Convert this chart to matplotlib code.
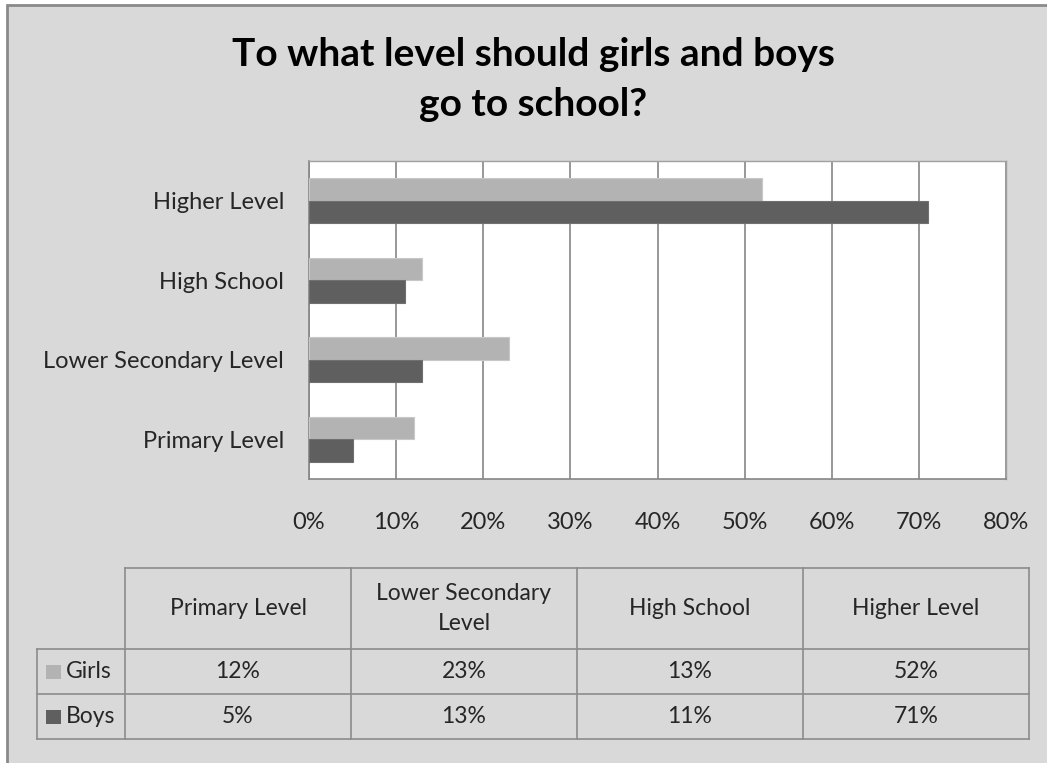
import matplotlib.pyplot as plt
from matplotlib.patches import Rectangle

# data
categories = ["Primary Level", "Lower Secondary Level", "High School", "Higher Level"]
table_headers = ["Primary Level", "Lower Secondary\nLevel", "High School", "Higher Level"]
girls = [12, 23, 13, 52]
boys = [5, 13, 11, 71]
series_names = ["Girls", "Boys"]
x_ticks = [0, 10, 20, 30, 40, 50, 60, 70, 80]

girls_color = "#b3b3b3"
boys_color = "#5f5f5f"
bg_color = "#d9d9d9"
grid_color = "#868686"
text_color = "#262626"
font = "Lato"

W, H = 1047, 763
fig = plt.figure(figsize=(W / 100, H / 100), dpi=100, facecolor="white")

# background layer in pixel coordinates
bg = fig.add_axes([0, 0, 1, 1])
bg.set_xlim(0, W)
bg.set_ylim(H, 0)
bg.axis("off")
bg.add_patch(Rectangle((7, 5), W + 20, H + 20, facecolor=bg_color,
                       edgecolor="#8a8a8a", linewidth=2))

bg.text(533, 55, "To what level should girls and boys", ha="center", va="center",
        fontsize=28, fontweight="bold", family=font, color="black")
bg.text(533, 105, "go to school?", ha="center", va="center",
        fontsize=28, fontweight="bold", family=font, color="black")


def px_axes(x0, y0, x1, y1):
    return fig.add_axes([x0 / W, 1 - y1 / H, (x1 - x0) / W, (y1 - y0) / H])


# bar chart
ax = px_axes(309, 161, 1006, 479)
ax.set_facecolor("white")
pos = list(range(len(categories)))
h = 0.283
ax.barh([p + h / 2 for p in pos], girls, height=h, color=girls_color,
        edgecolor="#c8c8c8", linewidth=0.8, zorder=3)
ax.barh([p - h / 2 for p in pos], boys, height=h, color=boys_color,
        edgecolor="#707070", linewidth=0.8, zorder=3)
ax.set_xlim(0, 80)
ax.set_ylim(-0.5, len(categories) - 0.5)
ax.set_xticks(x_ticks)
ax.set_xticklabels([f"{t}%" for t in x_ticks], family=font, fontsize=17, color=text_color)
ax.set_yticks(pos)
ax.set_yticklabels(categories, family=font, fontsize=17, color=text_color)
ax.tick_params(axis="both", length=0)
ax.tick_params(axis="y", pad=18)
ax.tick_params(axis="x", pad=24)
ax.xaxis.grid(True, color=grid_color, linewidth=1.2, zorder=0)
ax.set_axisbelow(True)
for s in ax.spines.values():
    s.set_color("#a0a0a0")
    s.set_linewidth(1)
ax.spines["left"].set_color(grid_color)
ax.spines["bottom"].set_color(grid_color)
ax.spines["left"].set_linewidth(1.2)
ax.spines["bottom"].set_linewidth(1.2)

# data table below the chart (pixel coordinates)
col_edges = [37, 125, 351, 577, 803, 1029]
row_edges = [568, 649, 694, 739]
line_kw = dict(color="#8c8c8c", linewidth=1.2)
# horizontal lines
bg.plot([col_edges[1], col_edges[-1]], [row_edges[0]] * 2, **line_kw)
for y in row_edges[1:]:
    bg.plot([col_edges[0], col_edges[-1]], [y, y], **line_kw)
# vertical lines
bg.plot([col_edges[0]] * 2, [row_edges[1], row_edges[-1]], **line_kw)
for x in col_edges[1:]:
    bg.plot([x, x], [row_edges[0], row_edges[-1]], **line_kw)

for i, lab in enumerate(table_headers):
    cx = (col_edges[i + 1] + col_edges[i + 2]) / 2
    cy = (row_edges[0] + row_edges[1]) / 2
    bg.text(cx, cy, lab, ha="center", va="center", fontsize=16.5, family=font,
            color=text_color, linespacing=1.5)

for r, (name, vals, col) in enumerate(zip(series_names, [girls, boys], [girls_color, boys_color])):
    cy = (row_edges[r + 1] + row_edges[r + 2]) / 2
    bg.add_patch(Rectangle((46, cy - 7), 15, 14, facecolor=col, edgecolor="none"))
    bg.text(66, cy, name, ha="left", va="center", fontsize=16.5, family=font, color=text_color)
    for i, v in enumerate(vals):
        cx = (col_edges[i + 1] + col_edges[i + 2]) / 2
        bg.text(cx, cy, f"{v}%", ha="center", va="center", fontsize=16.5, family=font,
                color=text_color)

fig.savefig("out.png", dpi=100, facecolor="white")
